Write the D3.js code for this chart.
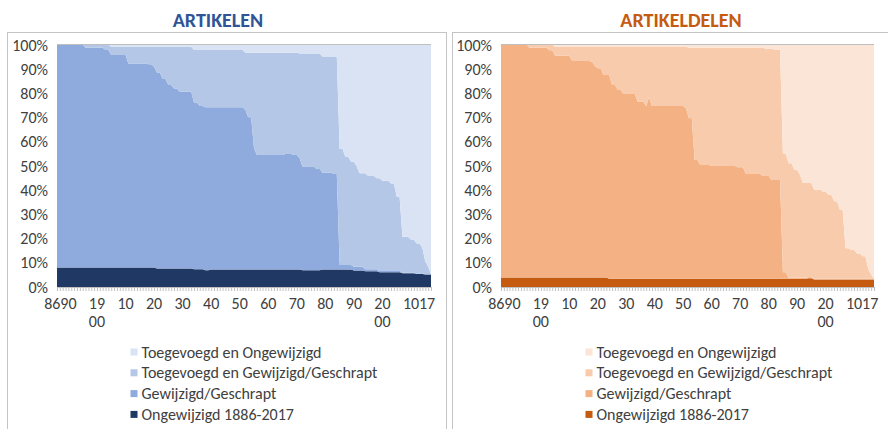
<!DOCTYPE html>
<html lang="nl">
  <head>
    <meta charset="UTF-8" />
    <title>Artikelen en artikeldelen 1886-2017</title>
    <style>
      body {
        margin: 0;
        background: #fff;
      }
      svg text {
        font-family: Calibri, Carlito, Lato, "Open Sans", sans-serif;
        fill: #404040;
      }
      .frame {
        fill: none;
        stroke: #c4c4c4;
      }
      .tick line,
      .domain {
        stroke: #bfbfbf;
      }
    </style>
  </head>

  <body>
    <script src="https://d3js.org/d3.v7.min.js"></script>
    <script>
      /* global d3 */

      const width = 888,
        height = 429;

      // categorieen: elk jaar van 1886 t/m 2017
      const firstYear = 1886,
        lastYear = 2017;
      const years = d3.range(firstYear, lastYear + 1);

      const tickYears = [1886, 1890, 1900, 1910, 1920, 1930, 1940, 1950, 1960, 1970, 1980, 1990, 2000, 2010, 2017];
      const tickLabels = [["86"], ["90"], ["19", "00"], ["10"], ["20"], ["30"], ["40"], ["50"], ["60"], ["70"], ["80"], ["90"], ["20", "00"], ["10"], ["17"]];
      const yTicks = [0, 0.1, 0.2, 0.3, 0.4, 0.5, 0.6, 0.7, 0.8, 0.9, 1];

      // volgorde van onder naar boven
      const seriesNames = ["Ongewijzigd 1886-2017", "Gewijzigd/Geschrapt", "Toegevoegd en Gewijzigd/Geschrapt", "Toegevoegd en Ongewijzigd"];

      // ARTIKELEN (% per jaar)
      const artikelenOngewijzigd = [
        8.1,8.1,8.1,8.1,8.1,8.1,8.1,8.1,8.1,8.1,
        8.1,8.1,8.1,8.1,8.1,8.1,8.1,8.1,8.1,8.1,
        8.1,8.1,8.1,8.1,8.1,8.1,8.1,8.1,8.1,8.1,
        8.1,8.1,8.1,8.1,8.1,7.6,7.6,7.6,7.6,7.6,
        7.6,7.6,7.6,7.6,7.6,7.6,7.6,7.6,7.3,7.3,
        7.3,7.3,6.9,6.9,7.2,7.2,7.2,7.2,7.2,7.2,
        7.2,7.2,7.2,7.2,7.2,7.2,7.2,7.2,7.2,7.2,
        7.2,7.2,7.2,7.2,7.2,7.2,7.2,7.2,7.2,7.2,
        7.2,7.2,7.2,7.2,7.2,7.2,6.9,6.9,6.9,6.9,
        6.9,6.9,6.9,7.2,7.2,7.2,7.2,7.2,7.2,7.2,
        7.2,7.2,7.2,7.2,6.8,6.8,6.8,6.8,6.5,6.5,
        6.5,6.5,6.5,6.1,6.1,6.1,6.1,6.1,6.1,6.1,
        6.1,5.7,5.7,5.7,5.7,5.7,5.4,5.4,5.4,5.2,
        5.2,5.2
      ];
      const artikelenGewijzigd = [
        91.9,91.9,91.9,91.9,91.9,91.9,91.9,91.9,91.9,91.9,
        90.8,90.8,90.8,90.8,90.8,90.8,90.8,89.8,89.8,87.8,
        87.8,87.8,87.8,87.8,87.8,84.3,84.3,84.3,84.3,84.3,
        84.3,84.3,83.9,83.9,82.9,81.0,81.0,78.4,78.4,75.9,
        75.9,74.4,74.4,73.1,73.1,73.1,73.1,73.1,68.9,68.9,
        67.5,67.5,67.4,67.4,67.1,67.1,67.1,67.1,67.1,67.1,
        67.1,67.1,67.1,67.1,67.1,67.1,65.9,62.9,62.9,50.1,
        47.3,47.3,47.3,47.3,47.3,47.3,47.3,47.3,47.3,47.3,
        47.8,47.8,47.8,47.3,47.3,46.0,42.8,42.8,42.8,42.8,
        42.8,41.9,41.9,40.0,40.0,40.0,40.0,39.5,39.5,1.9,
        1.9,1.9,1.9,1.9,1.6,1.6,1.6,1.6,0.8,0.8,
        0.8,0.8,0.8,0.5,0.5,0.5,0.5,0.5,0.5,0.5,
        0.5,0.3,0.3,0.3,0.3,0.3,0.2,0.2,0.2,0.1,
        0.1,0.1
      ];
      const artikelenToegevoegdGewijzigd = [
        0,0,0,0,0,0,0,0,0,0,
        1.1,1.1,1.1,1.1,1.1,1.1,1.1,2.1,2.1,3.4,
        3.4,3.4,3.4,3.4,3.4,6.9,6.9,6.9,6.9,6.9,
        6.9,6.9,7.3,7.3,8.3,10.7,10.7,13.3,13.3,15.8,
        15.8,17.3,17.3,18.6,18.6,18.6,18.6,18.6,21.7,21.7,
        23.1,23.1,23.6,23.6,23.6,23.6,23.6,23.6,23.6,23.6,
        23.6,23.6,23.6,23.6,23.6,23.6,23.7,26.7,26.7,39.5,
        42.3,42.3,42.3,42.3,42.3,42.3,42.3,42.3,42.3,42.3,
        41.8,41.8,41.8,42.3,42.3,43.3,46.8,46.8,46.8,46.8,
        46.8,47.7,47.7,48.0,48.0,48.0,48.0,48.5,48.5,47.9,
        47.9,44.7,44.7,42.7,43.4,41.3,38.6,38.6,39.7,38.6,
        38.6,38.6,37.6,38.3,37.3,37.3,37.3,36.2,36.2,30.7,
        30.7,14.8,14.8,14.8,13.4,13.4,12.4,12.4,10.4,5.2,
        3.1,0
      ];
      const artikelenToegevoegdOngewijzigd = [
        0,0,0,0,0,0,0,0,0,0,
        0,0,0,0,0,0,0,0,0,0.7,
        0.7,0.7,0.7,0.7,0.7,0.7,0.7,0.7,0.7,0.7,
        0.7,0.7,0.7,0.7,0.7,0.7,0.7,0.7,0.7,0.7,
        0.7,0.7,0.7,0.7,0.7,0.7,0.7,0.7,2.1,2.1,
        2.1,2.1,2.1,2.1,2.1,2.1,2.1,2.1,2.1,2.1,
        2.1,2.1,2.1,2.1,2.1,2.1,3.2,3.2,3.2,3.2,
        3.2,3.2,3.2,3.2,3.2,3.2,3.2,3.2,3.2,3.2,
        3.2,3.2,3.2,3.2,3.2,3.5,3.5,3.5,3.5,3.5,
        3.5,3.5,3.5,4.8,4.8,4.8,4.8,4.8,4.8,43.0,
        43.0,46.2,46.2,48.2,48.2,50.3,53.0,53.0,53.0,54.1,
        54.1,54.1,55.1,55.1,56.1,56.1,56.1,57.2,57.2,62.7,
        62.7,79.2,79.2,79.2,80.6,80.6,82.0,82.0,84.0,89.5,
        91.6,94.7
      ];

      // ARTIKELDELEN (% per jaar)
      const delenOngewijzigd = [
        3.9,3.9,3.9,3.9,3.9,3.9,3.9,3.9,3.9,3.9,
        3.9,3.9,3.9,3.9,3.9,3.9,3.9,3.9,3.9,3.9,
        3.9,3.9,3.9,3.9,3.9,3.9,3.9,3.9,3.9,3.9,
        3.9,3.9,3.9,3.9,3.9,3.9,3.9,3.9,3.4,3.4,
        3.4,3.4,3.4,3.4,3.4,3.4,3.4,3.4,3.4,3.4,
        3.4,3.4,3.4,3.4,3.4,3.4,3.4,3.4,3.4,3.4,
        3.4,3.4,3.4,3.4,3.4,3.4,3.4,3.4,3.4,3.4,
        3.4,3.4,3.4,3.4,3.4,3.4,3.4,3.4,3.4,3.4,
        3.4,3.4,3.4,3.4,3.4,3.4,3.4,3.4,3.4,3.4,
        3.4,3.4,3.4,3.4,3.4,3.4,3.4,3.4,3.4,3.4,
        3.4,3.4,3.4,3.4,3.4,3.4,3.4,3.4,3.6,3.6,
        3.1,3.1,3.1,3.1,3.1,3.1,3.1,3.1,3.1,3.1,
        3.1,3.1,3.1,3.1,3.1,3.1,3.1,3.1,3.1,3.1,
        3.1,3.1
      ];
      const delenGewijzigd = [
        96.1,96.1,96.1,96.1,96.1,96.1,96.1,96.1,96.1,96.1,
        95.0,95.0,95.0,95.0,95.0,95.0,95.0,93.9,93.9,91.7,
        91.7,91.7,91.7,91.7,91.7,89.5,89.5,89.5,89.5,89.5,
        89.5,89.5,89.2,87.4,86.5,86.5,83.7,83.7,84.2,80.1,
        80.1,78.0,78.0,76.4,76.4,76.4,76.4,76.4,73.2,73.2,
        73.2,71.4,75.0,71.4,71.4,71.4,71.4,71.4,71.4,71.4,
        71.4,71.4,71.4,71.4,71.4,70.4,66.3,66.3,49.1,49.1,
        47.0,47.0,47.0,47.0,46.6,46.6,46.6,46.6,46.6,46.6,
        46.6,46.6,46.6,46.1,46.1,46.1,43.3,43.3,43.3,43.3,
        43.3,43.3,42.5,42.5,42.5,40.8,40.8,40.8,40.8,2.7,
        2.7,0.4,0.4,0.4,0.4,0.4,0.4,0.4,0.4,0.4,
        0.3,0.3,0.3,0.3,0.3,0.3,0.3,0.3,0.3,0.3,
        0.3,0.3,0.3,0.3,0.3,0.3,0.3,0.3,0.3,0.3,
        0.3,0.3
      ];
      const delenToegevoegdGewijzigd = [
        0,0,0,0,0,0,0,0,0,0,
        1.1,1.1,1.1,1.1,1.1,1.1,1.1,2.2,2.2,3.7,
        3.7,3.7,3.7,3.7,3.7,5.9,5.9,5.9,5.9,5.9,
        5.9,5.9,6.2,8.0,8.9,8.9,11.7,11.7,11.7,15.8,
        15.8,17.9,17.9,19.5,19.5,19.5,19.5,19.5,22.7,22.7,
        22.7,24.5,20.9,24.5,24.5,24.5,24.5,24.5,24.5,24.5,
        24.5,24.5,24.5,24.5,24.5,25.5,29.2,29.2,46.4,46.4,
        48.5,48.5,48.5,48.5,48.9,48.9,48.9,48.9,48.9,48.9,
        48.9,48.9,48.9,49.4,49.4,49.4,52.2,52.2,52.2,52.2,
        52.2,52.2,53.0,52.6,52.6,54.3,53.8,53.8,53.8,49.1,
        49.1,47.3,47.3,44.6,44.6,42.6,39.2,39.2,39.0,39.0,
        36.8,36.8,36.8,36.1,36.1,34.7,34.7,32.0,32.0,28.6,
        28.6,12.6,12.6,12.0,12.0,10.4,10.4,9.3,9.3,3.8,
        1.7,0
      ];
      const delenToegevoegdOngewijzigd = [
        0,0,0,0,0,0,0,0,0,0,
        0,0,0,0,0,0,0,0,0,0.7,
        0.7,0.7,0.7,0.7,0.7,0.7,0.7,0.7,0.7,0.7,
        0.7,0.7,0.7,0.7,0.7,0.7,0.7,0.7,0.7,0.7,
        0.7,0.7,0.7,0.7,0.7,0.7,0.7,0.7,0.7,0.7,
        0.7,0.7,0.7,0.7,0.7,0.7,0.7,0.7,0.7,0.7,
        0.7,0.7,0.7,0.7,0.7,0.7,1.1,1.1,1.1,1.1,
        1.1,1.1,1.1,1.1,1.1,1.1,1.1,1.1,1.1,1.1,
        1.1,1.1,1.1,1.1,1.1,1.1,1.1,1.1,1.1,1.1,
        1.1,1.1,1.1,1.5,1.5,1.5,2.0,2.0,2.0,44.8,
        44.8,48.9,48.9,51.6,51.6,53.6,57.0,57.0,57.0,57.0,
        59.8,59.8,59.8,60.5,60.5,61.9,61.9,64.6,64.6,68.0,
        68.0,84.0,84.0,84.6,84.6,86.2,86.2,87.3,87.3,92.8,
        94.9,96.6
      ];

      const panels = [
        {
          title: "ARTIKELEN",
          titleColor: "#2F5597",
          titleX: 218,
          frameX: 7.5,
          x0: 57,
          x1: 431,
          legendX: 130.5,
          colors: ["#203864", "#8FAADC", "#B4C7E7", "#DAE3F3"],
          series: [artikelenOngewijzigd, artikelenGewijzigd, artikelenToegevoegdGewijzigd, artikelenToegevoegdOngewijzigd]
        },
        {
          title: "ARTIKELDELEN",
          titleColor: "#C55A11",
          titleX: 681,
          frameX: 452.5,
          x0: 501,
          x1: 874,
          legendX: 585.5,
          colors: ["#C55A11", "#F4B183", "#F8CBAD", "#FBE5D6"],
          series: [delenOngewijzigd, delenGewijzigd, delenToegevoegdGewijzigd, delenToegevoegdOngewijzigd]
        }
      ];

      const plotTop = 45,
        plotBottom = 287;

      const svg = d3
        .select("body")
        .append("svg")
        .attr("width", width)
        .attr("height", height);

      const y = d3.scaleLinear().domain([0, 1]).range([plotBottom, plotTop]);

      panels.forEach(p => {
        const g = svg.append("g");

        g.append("rect")
          .attr("class", "frame")
          .attr("x", p.frameX)
          .attr("y", 32.5)
          .attr("width", 439)
          .attr("height", 420);

        g.append("text")
          .attr("x", p.titleX)
          .attr("y", 26.5)
          .attr("text-anchor", "middle")
          .style("font-size", "20px")
          .style("font-weight", "bold")
          .style("fill", p.titleColor)
          .text(p.title);

        const x = d3.scalePoint().domain(years).range([p.x0, p.x1]);

        const rows = years.map((yr, i) => {
          const r = { year: yr };
          p.series.forEach((s, k) => (r[k] = s[i]));
          return r;
        });

        const stack = d3
          .stack()
          .keys([0, 1, 2, 3])
          .offset(d3.stackOffsetExpand);

        const area = d3
          .area()
          .x(d => x(d.data.year))
          .y0(d => y(d[0]))
          .y1(d => y(d[1]));

        // rasterlijnen achter de vlakken
        g.append("g")
          .selectAll("line")
          .data(yTicks)
          .join("line")
          .attr("x1", p.x0)
          .attr("x2", p.x1)
          .attr("y1", d => Math.round(y(d)) + 0.5)
          .attr("y2", d => Math.round(y(d)) + 0.5)
          .attr("stroke", "#d9d9d9");

        g.append("g")
          .selectAll("path")
          .data(stack(rows))
          .join("path")
          .attr("fill", (d, i) => p.colors[i])
          .attr("d", area);

        g.append("line")
          .attr("x1", p.x0)
          .attr("x2", p.x1)
          .attr("y1", plotTop - 0.5)
          .attr("y2", plotTop - 0.5)
          .attr("stroke", "#bfbfbf");

        // x-as met een streepje per jaar
        const xAxis = g
          .append("g")
          .attr("transform", `translate(0,${plotBottom})`)
          .call(
            d3
              .axisBottom(x)
              .tickValues(years)
              .tickSize(4)
              .tickSizeOuter(0)
              .tickFormat(() => "")
          );
        xAxis.selectAll("text").remove();

        // eerste en laatste label schuiven tegen hun buur aan
        const labelX = (d, i) => {
          if (i === 0) return x(tickYears[1]) - 8;
          if (i === tickYears.length - 1) return x(tickYears[i - 1]) + 8;
          return x(d);
        };
        const labelAnchor = (d, i) => (i === 0 ? "end" : i === tickYears.length - 1 ? "start" : "middle");

        const labels = g
          .append("g")
          .style("font-size", "16px")
          .selectAll("text")
          .data(tickYears)
          .join("text")
          .attr("text-anchor", labelAnchor)
          .attr("x", labelX)
          .attr("y", 309);
        labels
          .selectAll("tspan")
          .data((d, i) => tickLabels[i].map(t => ({ t, x: labelX(d, i) })))
          .join("tspan")
          .attr("x", d => d.x)
          .attr("dy", (d, j) => (j === 0 ? 0 : 18))
          .text(d => d.t);

        // y-as
        g.append("g")
          .attr("transform", `translate(${p.x0},0)`)
          .call(
            d3
              .axisLeft(y)
              .tickValues(yTicks)
              .tickFormat(d3.format(".0%"))
              .tickSize(0)
              .tickPadding(9)
          )
          .call(a => a.select(".domain").remove())
          .selectAll("text")
          .style("font-size", "16px")
          .style("font-family", null);

        // legenda, bovenste reeks eerst
        const legend = g
          .append("g")
          .selectAll("g")
          .data([3, 2, 1, 0])
          .join("g")
          .attr("transform", (d, i) => `translate(${p.legendX},${352 + i * 20.8})`);
        legend
          .append("rect")
          .attr("x", 0)
          .attr("y", -3.5)
          .attr("width", 7)
          .attr("height", 7)
          .attr("fill", d => p.colors[d]);
        legend
          .append("text")
          .attr("x", 11)
          .attr("dy", "0.35em")
          .style("font-size", "16px")
          .text(d => seriesNames[d]);
      });
    </script>
  </body>
</html>
